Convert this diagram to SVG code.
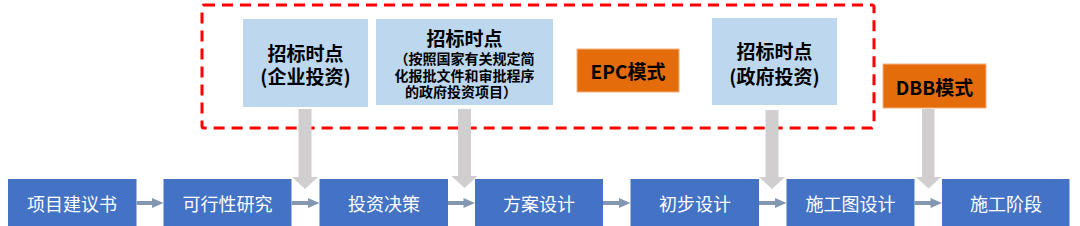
<svg xmlns="http://www.w3.org/2000/svg" width="1080" height="226" viewBox="0 0 1080 226">
<defs>
<style>
.step{fill:#4472C4}
.st{fill:#ffffff;font-family:"Noto Sans CJK SC","Noto Sans",sans-serif;font-size:18px;text-anchor:middle;dominant-baseline:central}
.tb{fill:#BDD7EE}
.mode{fill:#E46C0A;stroke:#F4B183;stroke-width:1}
.bt{fill:#000000;font-family:"Noto Sans CJK SC","Noto Sans",sans-serif;font-weight:bold;font-size:19px;text-anchor:middle;dominant-baseline:central}
.small{font-size:14px}
.h{stroke:#8497B0;stroke-width:4;fill:none}
.hh{fill:#8497B0}
.v{fill:#D0CECE}
</style>
</defs>
<rect id="dashed-region" x="202" y="5" width="672" height="123" rx="2" fill="none" stroke="#FF0000" stroke-width="3" stroke-dasharray="11,7"/>
<g id="n-tb1"><rect class="tb" x="243" y="19" width="125" height="88"/><text class="bt" x="305.5" y="52">招标时点</text><text class="bt" x="305.5" y="75">(企业投资)</text></g>
<g id="n-tb2"><rect class="tb" x="376" y="19" width="177" height="86"/><text class="bt" x="464.5" y="37">招标时点</text><text class="bt small" x="464.5" y="58">（按照国家有关规定简</text><text class="bt small" x="464.5" y="75">化报批文件和审批程序</text><text class="bt small" x="461" y="91">的政府投资项目）</text></g>
<g id="n-epc"><rect class="mode" x="577" y="49" width="102" height="43"/><text class="bt" x="628" y="70.5">EPC模式</text></g>
<g id="n-tb3"><rect class="tb" x="712" y="18" width="125" height="87"/><text class="bt" x="774.5" y="50">招标时点</text><text class="bt" x="774.5" y="75">(政府投资)</text></g>
<g id="n-dbb"><rect class="mode" x="883" y="64" width="103" height="44"/><text class="bt" x="934.5" y="86">DBB模式</text></g>
<g id="n1"><rect class="step" x="8" y="179" width="128.5" height="50"/><text class="st" x="72" y="203">项目建议书</text></g>
<g id="n2"><rect class="step" x="163.5" y="179" width="128" height="50"/><text class="st" x="227.5" y="203">可行性研究</text></g>
<g id="n3"><rect class="step" x="319.5" y="179" width="128.5" height="50"/><text class="st" x="384" y="203">投资决策</text></g>
<g id="n4"><rect class="step" x="475" y="179" width="128" height="50"/><text class="st" x="539" y="203">方案设计</text></g>
<g id="n5"><rect class="step" x="630.5" y="179" width="128.5" height="50"/><text class="st" x="695" y="203">初步设计</text></g>
<g id="n6"><rect class="step" x="786.5" y="179" width="128" height="50"/><text class="st" x="850.5" y="203">施工图设计</text></g>
<g id="n7"><rect class="step" x="942" y="179" width="127.5" height="50"/><text class="st" x="1006" y="203">施工阶段</text></g>
<g id="connectors">
<line class="h" x1="136.5" y1="203" x2="153" y2="203"/><polygon class="hh" points="152,198 163.5,203 152,208"/>
<line class="h" x1="291.5" y1="203" x2="309" y2="203"/><polygon class="hh" points="308,198 319.5,203 308,208"/>
<line class="h" x1="448" y1="203" x2="464" y2="203"/><polygon class="hh" points="463.5,198 475,203 463.5,208"/>
<line class="h" x1="603" y1="203" x2="620" y2="203"/><polygon class="hh" points="619,198 630.5,203 619,208"/>
<line class="h" x1="759" y1="203" x2="776" y2="203"/><polygon class="hh" points="775,198 786.5,203 775,208"/>
<line class="h" x1="914.5" y1="203" x2="931" y2="203"/><polygon class="hh" points="930.5,198 942,203 930.5,208"/>
<polygon class="v" points="298.5,109 311.5,109 311.5,177 318,177 305,189 292,177 298.5,177"/>
<polygon class="v" points="458,109 471,109 471,176 477.5,176 464.5,188 451.5,176 458,176"/>
<polygon class="v" points="765.5,110 778.5,110 778.5,177 785,177 772,189 759,177 765.5,177"/>
<polygon class="v" points="922,109 934.5,109 934.5,177 941,177 928.5,188.5 916,177 922,177"/>
</g>
</svg>
